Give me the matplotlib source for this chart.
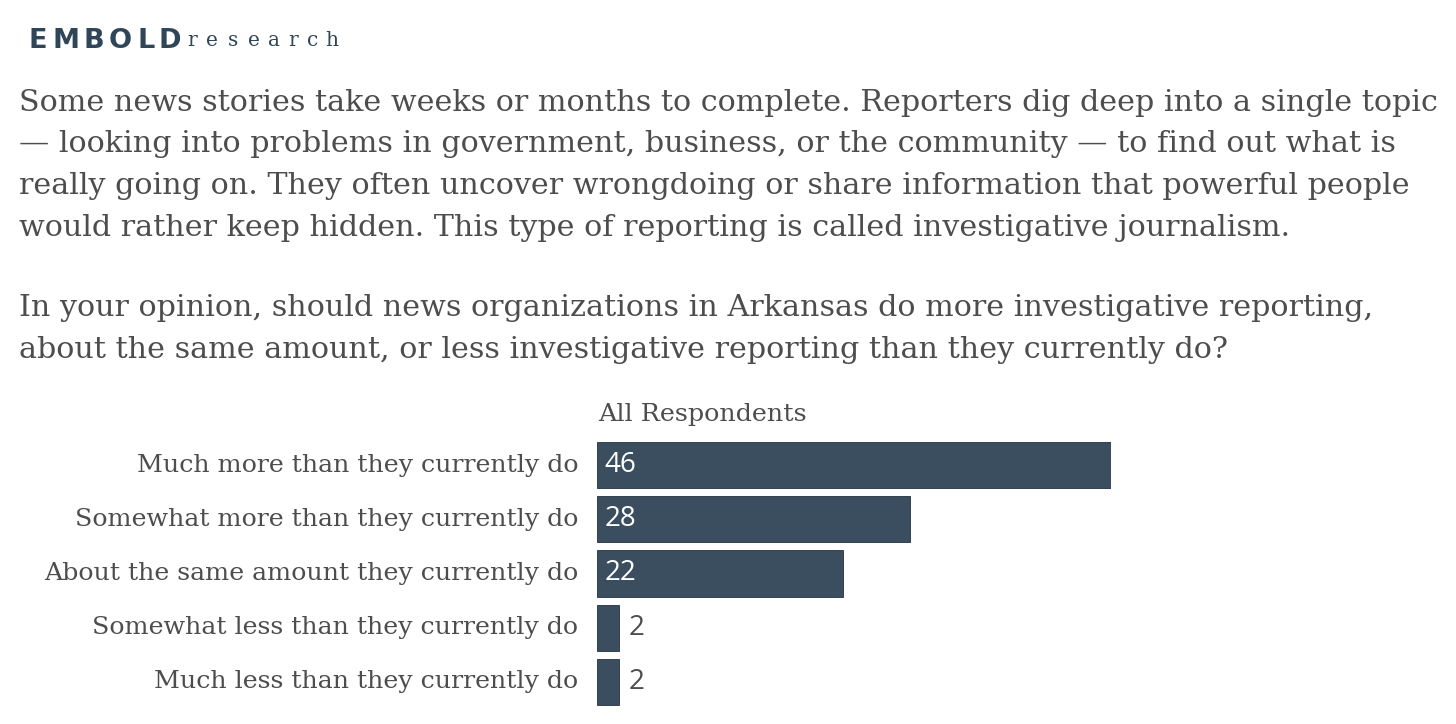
import matplotlib.pyplot as plt

categories = ['Much more than they currently do',
              'Somewhat more than they currently do',
              'About the same amount they currently do',
              'Somewhat less than they currently do',
              'Much less than they currently do']
values = [46, 28, 22, 2, 2]
column_title = 'All Respondents'

intro_lines = ['Some news stories take weeks or months to complete. Reporters dig deep into a single topic',
               '\u2014 looking into problems in government, business, or the community \u2014 to find out what is',
               'really going on. They often uncover wrongdoing or share information that powerful people',
               'would rather keep hidden. This type of reporting is called investigative journalism.']
question_lines = ['In your opinion, should news organizations in Arkansas do more investigative reporting,',
                  'about the same amount, or less investigative reporting than they currently do?']

W, H = 1456, 724
bar_color = '#3b4e60'
text_color = '#4d4d4d'
logo_color = '#2f4558'

fig = plt.figure(figsize=(W / 100, H / 100), dpi=100)

def fx(px):
    return px / W

def fy(py):
    return 1 - py / H

# logo
for ch, cx in zip('EMBOLD', [38, 66, 94, 120, 146, 170]):
    fig.text(fx(cx), fy(41), ch, ha='center', va='center', fontsize=19.5,
             fontweight='heavy', family='DejaVu Sans', color=logo_color)
for ch, cx in zip('research', [192, 212, 233, 254, 274, 293, 313, 332]):
    fig.text(fx(cx), fy(41), ch, ha='center', va='center', fontsize=14.5,
             family='DejaVu Serif', color=logo_color)

# intro and question
for i, line in enumerate(intro_lines):
    fig.text(fx(19), fy(103 + i * 41.5), line, ha='left', va='center',
             fontsize=21.7, family='DejaVu Serif', color=text_color)
for i, line in enumerate(question_lines):
    fig.text(fx(19), fy(308 + i * 42), line, ha='left', va='center',
             fontsize=21.7, family='DejaVu Serif', color=text_color)

# bars
ax = fig.add_axes([fx(597), fy(709), fx(1111) - fx(597), (709 - 438) / H])
y = list(range(len(categories)))
ax.barh(y, values, height=0.85, color=bar_color, edgecolor='#22313f', linewidth=0.6)
ax.set_xlim(0, max(values))
ax.set_ylim(len(categories) - 0.5, -0.5)
ax.axis('off')

for yi, v in zip(y, values):
    if v >= 10:
        ax.text(0.7, yi, str(v), ha='left', va='center', fontsize=20,
                family='Open Sans', color='white')
    else:
        ax.text(v + 0.8, yi, str(v), ha='left', va='center', fontsize=20,
                family='Open Sans', color=text_color)
    ax.text(-1.7, yi, categories[yi], ha='right', va='center',
            fontsize=18.2, family='DejaVu Serif', color=text_color)

fig.text(fx(598), fy(414), column_title, ha='left', va='center', fontsize=18.3,
         family='DejaVu Serif', color=text_color)

fig.savefig('out.png', dpi=100, facecolor='white')
